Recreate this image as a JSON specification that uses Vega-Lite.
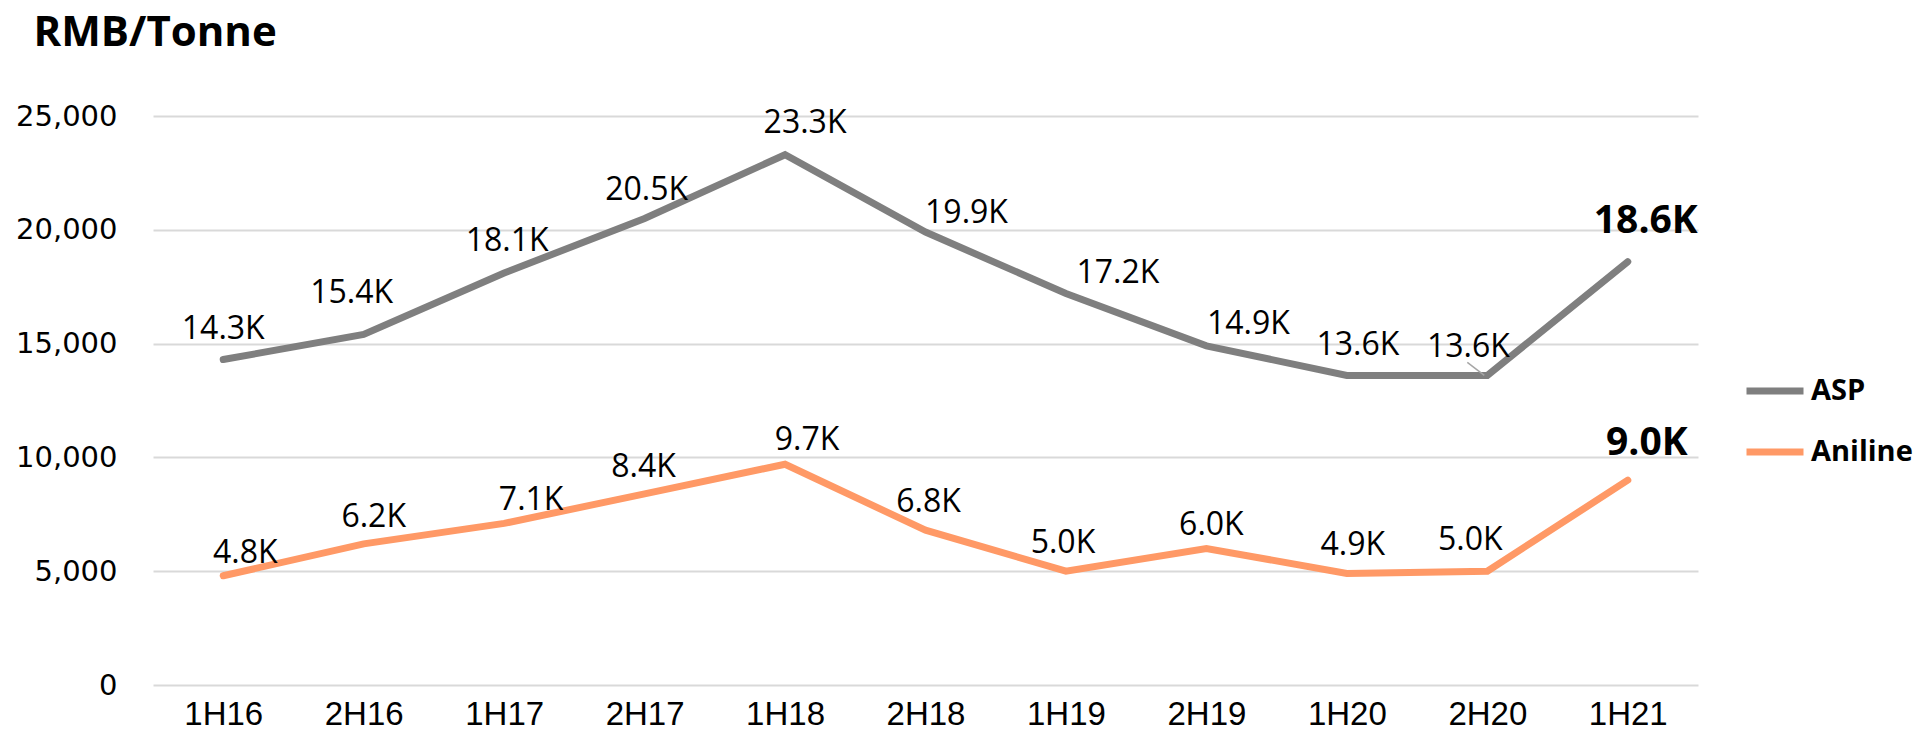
{
  "$schema": "https://vega.github.io/schema/vega-lite/v6.json",
  "width": 1545,
  "height": 569,
  "autosize": "none",
  "padding": {"left": 153, "top": 116, "right": 228, "bottom": 59},
  "background": "white",
  "config": {
    "view": {"stroke": null},
    "font": "Open Sans",
    "text": {"font": "Open Sans", "fontSize": 32, "baseline": "alphabetic", "color": "#000000"}
  },
  "data": {
    "values": [
      {"period": "1H16", "series": "ASP", "value": 14300, "label": "14.3K"},
      {"period": "2H16", "series": "ASP", "value": 15400, "label": "15.4K"},
      {"period": "1H17", "series": "ASP", "value": 18100, "label": "18.1K"},
      {"period": "2H17", "series": "ASP", "value": 20500, "label": "20.5K"},
      {"period": "1H18", "series": "ASP", "value": 23300, "label": "23.3K"},
      {"period": "2H18", "series": "ASP", "value": 19900, "label": "19.9K"},
      {"period": "1H19", "series": "ASP", "value": 17200, "label": "17.2K"},
      {"period": "2H19", "series": "ASP", "value": 14900, "label": "14.9K"},
      {"period": "1H20", "series": "ASP", "value": 13600, "label": "13.6K"},
      {"period": "2H20", "series": "ASP", "value": 13600, "label": "13.6K"},
      {"period": "1H21", "series": "ASP", "value": 18600, "label": "18.6K"},
      {"period": "1H16", "series": "Aniline", "value": 4800, "label": "4.8K"},
      {"period": "2H16", "series": "Aniline", "value": 6200, "label": "6.2K"},
      {"period": "1H17", "series": "Aniline", "value": 7100, "label": "7.1K"},
      {"period": "2H17", "series": "Aniline", "value": 8400, "label": "8.4K"},
      {"period": "1H18", "series": "Aniline", "value": 9700, "label": "9.7K"},
      {"period": "2H18", "series": "Aniline", "value": 6800, "label": "6.8K"},
      {"period": "1H19", "series": "Aniline", "value": 5000, "label": "5.0K"},
      {"period": "2H19", "series": "Aniline", "value": 6000, "label": "6.0K"},
      {"period": "1H20", "series": "Aniline", "value": 4900, "label": "4.9K"},
      {"period": "2H20", "series": "Aniline", "value": 5000, "label": "5.0K"},
      {"period": "1H21", "series": "Aniline", "value": 9000, "label": "9.0K"}
    ]
  },
  "encoding": {
    "x": {
      "field": "period",
      "type": "ordinal",
      "sort": null,
      "scale": {"type": "point", "padding": 0.5, "domain": ["1H16", "2H16", "1H17", "2H17", "1H18", "2H18", "1H19", "2H19", "1H20", "2H20", "1H21"]},
      "axis": {
        "title": null,
        "labelAngle": 0,
        "labelFont": "Liberation Sans",
        "labelFontSize": 33,
        "labelColor": "#000000",
        "labelBaseline": "alphabetic",
        "labelPadding": 39,
        "domain": false,
        "ticks": false,
        "grid": false
      }
    },
    "y": {
      "field": "value",
      "type": "quantitative",
      "scale": {"domain": [0, 25000], "nice": false},
      "axis": {
        "values": [0, 5000, 10000, 15000, 20000, 25000],
        "format": ",d",
        "labelFont": "DejaVu Sans",
        "labelFontSize": 29,
        "labelColor": "#000000",
        "labelPadding": 36,
        "domain": false,
        "ticks": false,
        "grid": true,
        "gridColor": "#D9D9D9",
        "gridWidth": 2,
        "title": "RMB/Tonne",
        "titleFont": "Open Sans",
        "titleColor": "#000000",
        "titleAngle": 0,
        "titleFontSize": 42,
        "titleFontWeight": "bold",
        "titleAlign": "left",
        "titleBaseline": "alphabetic",
        "titleX": -120,
        "titleY": -71
      }
    }
  },
  "layer": [
    {
      "mark": {"type": "line", "strokeWidth": 7, "strokeCap": "round"},
      "encoding": {
        "color": {
          "field": "series",
          "type": "nominal",
          "scale": {"domain": ["ASP", "Aniline"], "range": ["#7F7F7F", "#FF9966"]},
          "legend": {
            "title": null,
            "orient": "none",
            "legendX": 1590,
            "legendY": 243,
            "padding": 0,
            "symbolType": "stroke",
            "symbolSize": 3249,
            "symbolStrokeWidth": 7,
            "rowPadding": 14,
            "labelFontSize": 29,
            "labelFontWeight": "bold",
            "labelFont": "Open Sans",
            "labelColor": "#000000",
            "labelOffset": 4
          }
        }
      }
    },
    {
      "transform": [{"filter": "datum.series === 'ASP' && datum.period === '2H20'"}],
      "mark": {"type": "rule", "color": "#A6A6A6", "strokeWidth": 1.5, "xOffset": -3, "x2Offset": -20, "y2Offset": -13},
      "encoding": {"x2": {"field": "period"}, "y2": {"field": "value"}}
    },
    {"transform": [{"filter": "datum.series === 'ASP' && datum.period === '1H16'"}], "mark": {"type": "text", "dx": 0, "dy": -21}, "encoding": {"text": {"field": "label"}}},
    {"transform": [{"filter": "datum.series === 'ASP' && datum.period === '2H16'"}], "mark": {"type": "text", "dx": -12, "dy": -31}, "encoding": {"text": {"field": "label"}}},
    {"transform": [{"filter": "datum.series === 'ASP' && datum.period === '1H17'"}], "mark": {"type": "text", "dx": 3, "dy": -22}, "encoding": {"text": {"field": "label"}}},
    {"transform": [{"filter": "datum.series === 'ASP' && datum.period === '2H17'"}], "mark": {"type": "text", "dx": 2, "dy": -18}, "encoding": {"text": {"field": "label"}}},
    {"transform": [{"filter": "datum.series === 'ASP' && datum.period === '1H18'"}], "mark": {"type": "text", "dx": 20, "dy": -22}, "encoding": {"text": {"field": "label"}}},
    {"transform": [{"filter": "datum.series === 'ASP' && datum.period === '2H18'"}], "mark": {"type": "text", "dx": 41, "dy": -9}, "encoding": {"text": {"field": "label"}}},
    {"transform": [{"filter": "datum.series === 'ASP' && datum.period === '1H19'"}], "mark": {"type": "text", "dx": 52, "dy": -11}, "encoding": {"text": {"field": "label"}}},
    {"transform": [{"filter": "datum.series === 'ASP' && datum.period === '2H19'"}], "mark": {"type": "text", "dx": 42, "dy": -12}, "encoding": {"text": {"field": "label"}}},
    {"transform": [{"filter": "datum.series === 'ASP' && datum.period === '1H20'"}], "mark": {"type": "text", "dx": 11, "dy": -20}, "encoding": {"text": {"field": "label"}}},
    {"transform": [{"filter": "datum.series === 'ASP' && datum.period === '2H20'"}], "mark": {"type": "text", "dx": -19, "dy": -18}, "encoding": {"text": {"field": "label"}}},
    {"transform": [{"filter": "datum.series === 'ASP' && datum.period === '1H21'"}], "mark": {"type": "text", "dx": 18, "dy": -29, "fontSize": 39, "fontWeight": "bold"}, "encoding": {"text": {"field": "label"}}},
    {"transform": [{"filter": "datum.series === 'Aniline' && datum.period === '1H16'"}], "mark": {"type": "text", "dx": 22, "dy": -13}, "encoding": {"text": {"field": "label"}}},
    {"transform": [{"filter": "datum.series === 'Aniline' && datum.period === '2H16'"}], "mark": {"type": "text", "dx": 10, "dy": -17}, "encoding": {"text": {"field": "label"}}},
    {"transform": [{"filter": "datum.series === 'Aniline' && datum.period === '1H17'"}], "mark": {"type": "text", "dx": 27, "dy": -13}, "encoding": {"text": {"field": "label"}}},
    {"transform": [{"filter": "datum.series === 'Aniline' && datum.period === '2H17'"}], "mark": {"type": "text", "dx": -1, "dy": -17}, "encoding": {"text": {"field": "label"}}},
    {"transform": [{"filter": "datum.series === 'Aniline' && datum.period === '1H18'"}], "mark": {"type": "text", "dx": 22, "dy": -14}, "encoding": {"text": {"field": "label"}}},
    {"transform": [{"filter": "datum.series === 'Aniline' && datum.period === '2H18'"}], "mark": {"type": "text", "dx": 3, "dy": -18}, "encoding": {"text": {"field": "label"}}},
    {"transform": [{"filter": "datum.series === 'Aniline' && datum.period === '1H19'"}], "mark": {"type": "text", "dx": -3, "dy": -18}, "encoding": {"text": {"field": "label"}}},
    {"transform": [{"filter": "datum.series === 'Aniline' && datum.period === '2H19'"}], "mark": {"type": "text", "dx": 5, "dy": -13}, "encoding": {"text": {"field": "label"}}},
    {"transform": [{"filter": "datum.series === 'Aniline' && datum.period === '1H20'"}], "mark": {"type": "text", "dx": 6, "dy": -18}, "encoding": {"text": {"field": "label"}}},
    {"transform": [{"filter": "datum.series === 'Aniline' && datum.period === '2H20'"}], "mark": {"type": "text", "dx": -17, "dy": -21}, "encoding": {"text": {"field": "label"}}},
    {"transform": [{"filter": "datum.series === 'Aniline' && datum.period === '1H21'"}], "mark": {"type": "text", "dx": 19, "dy": -25, "fontSize": 39, "fontWeight": "bold"}, "encoding": {"text": {"field": "label"}}}
  ]
}
